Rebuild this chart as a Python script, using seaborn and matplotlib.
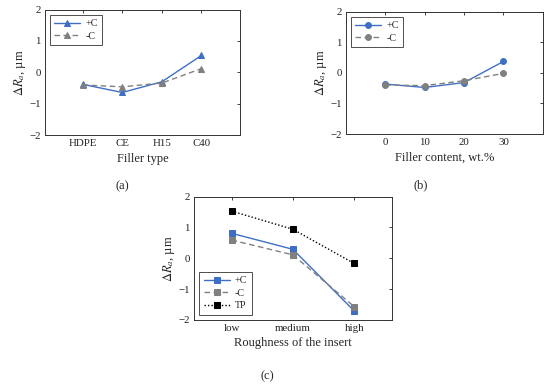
import matplotlib
matplotlib.use("Agg")
import matplotlib.pyplot as plt
import seaborn as sns
import pandas as pd

# Data
filler_types = ["HDPE", "CE", "H15", "C40"]
a_plusC = [-0.38, -0.64, -0.30, 0.54]
a_minusC = [-0.40, -0.46, -0.34, 0.12]

filler_content = [0, 10, 20, 30]
b_plusC = [-0.37, -0.48, -0.32, 0.37]
b_minusC = [-0.40, -0.42, -0.26, -0.02]

roughness = ["low", "medium", "high"]
c_plusC = [0.81, 0.29, -1.71]
c_minusC = [0.59, 0.11, -1.57]
c_TP = [1.53, 0.94, -0.17]

sns.set_style("white")
plt.rcParams["font.family"] = ["Liberation Serif", "DejaVu Serif"]
plt.rcParams["mathtext.fontset"] = "stix"

BLUE = "#3f6fc4"
GRAY = "#808080"
BLACK = "#000000"

fig = plt.figure(figsize=(5.5, 3.84), dpi=100)
ax_a = fig.add_axes([0.0818, 0.648, 0.355, 0.327])
ax_b = fig.add_axes([0.629, 0.651, 0.358, 0.319])
ax_c = fig.add_axes([0.353, 0.167, 0.359, 0.321])

ylab = r"$\Delta R_a$, µm"


def style_axes(ax, xlabel):
    ax.set_ylim(-2, 2)
    ax.set_yticks([-2, -1, 0, 1, 2])
    ax.set_yticklabels(["\u22122", "\u22121", "0", "1", "2"])
    ax.tick_params(direction="in", length=2.5, width=0.6, top=True, right=True,
                   labelsize=7.8, colors="#222222", pad=3)
    for s in ax.spines.values():
        s.set_color("#333333")
        s.set_linewidth(0.7)
    ax.set_xlabel(xlabel, fontsize=9, labelpad=3)
    ax.set_ylabel(ylab, fontsize=9, labelpad=1)
    ax.grid(False)


def legend(ax, loc):
    leg = ax.legend(loc=loc, fontsize=7.2, frameon=True, fancybox=False,
                    edgecolor="#222222", handlelength=2.6, borderpad=0.45,
                    labelspacing=0.35, handletextpad=0.5)
    leg.get_frame().set_linewidth(0.7)


# (a)
xa = list(range(len(filler_types)))
dfa = pd.DataFrame({"x": xa, "p": a_plusC, "m": a_minusC})
sns.lineplot(data=dfa, x="x", y="p", ax=ax_a, color=BLUE, marker="^", markersize=4.2,
             markeredgecolor=BLUE, linewidth=1.0, label="+C")
sns.lineplot(data=dfa, x="x", y="m", ax=ax_a, color=GRAY, marker="^", markersize=4.2,
             markeredgecolor=GRAY, linewidth=1.0, linestyle=(0, (4, 2.5)), label="-C")
ax_a.set_xlim(-0.95, 3.98)
ax_a.set_xticks(xa)
ax_a.set_xticklabels(filler_types)
style_axes(ax_a, "Filler type")
legend(ax_a, "upper left")

# (b)
dfb = pd.DataFrame({"x": filler_content, "p": b_plusC, "m": b_minusC})
sns.lineplot(data=dfb, x="x", y="p", ax=ax_b, color=BLUE, marker="o", markersize=4.2,
             markeredgecolor=BLUE, linewidth=1.0, label="+C")
sns.lineplot(data=dfb, x="x", y="m", ax=ax_b, color=GRAY, marker="o", markersize=4.2,
             markeredgecolor=GRAY, linewidth=1.0, linestyle=(0, (4, 2.5)), label="-C")
ax_b.set_xlim(-10, 40)
ax_b.set_xticks(filler_content)
style_axes(ax_b, "Filler content, wt.%")
legend(ax_b, "upper left")

# (c)
xc = list(range(len(roughness)))
dfc = pd.DataFrame({"x": xc, "p": c_plusC, "m": c_minusC, "t": c_TP})
sns.lineplot(data=dfc, x="x", y="p", ax=ax_c, color=BLUE, marker="s", markersize=4.0,
             markeredgecolor=BLUE, linewidth=1.0, label="+C")
sns.lineplot(data=dfc, x="x", y="m", ax=ax_c, color=GRAY, marker="s", markersize=4.0,
             markeredgecolor=GRAY, linewidth=1.0, linestyle=(0, (4, 2.5)), label="-C")
sns.lineplot(data=dfc, x="x", y="t", ax=ax_c, color=BLACK, marker="s", markersize=4.0,
             markeredgecolor=BLACK, linewidth=1.0, linestyle=(0, (1, 1.5)), label="TP")
ax_c.set_xlim(-0.61, 2.61)
ax_c.set_xticks(xc)
ax_c.set_xticklabels(roughness)
style_axes(ax_c, "Roughness of the insert")
legend(ax_c, "lower left")

# captions
fig.text(122 / 550, 1 - 186 / 384, "(a)", ha="center", va="center", fontsize=9)
fig.text(421 / 550, 1 - 185 / 384, "(b)", ha="center", va="center", fontsize=9)
fig.text(267 / 550, 1 - 376 / 384, "(c)", ha="center", va="center", fontsize=9)

fig.savefig("out.png", dpi=100)
